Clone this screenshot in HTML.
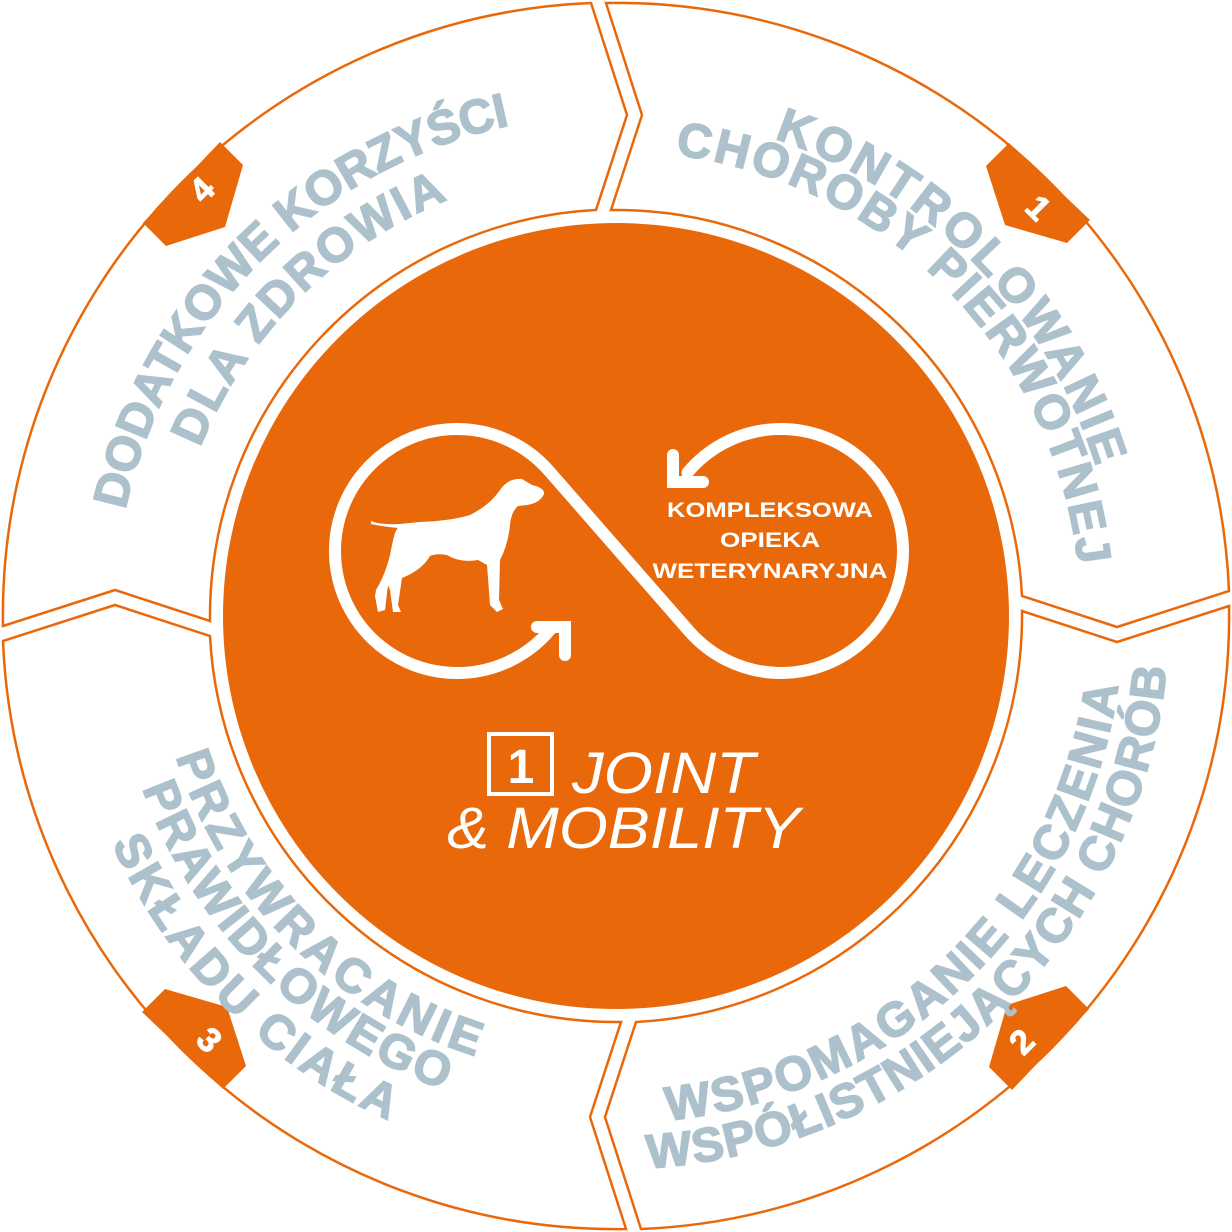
<!DOCTYPE html>
<html><head><meta charset="utf-8"><style>
html,body{margin:0;padding:0;background:#fff}
svg{display:block}
.seg{font-family:"Liberation Sans",sans-serif;font-weight:bold;font-size:48px;fill:#adc1cd;stroke:#adc1cd;stroke-width:1.6}
</style></head><body>
<svg width="1232" height="1232" viewBox="0 0 1232 1232" xmlns="http://www.w3.org/2000/svg">
<defs>
<path id="s1a" d="M407.4,158.3 A503,503 0 0,1 1070,832.5"/>
<path id="s1b" d="M423.2,192.8 A465,465 0 0,1 1035.7,816.2"/>
<path id="s2a" d="M393.7,1071.7 A507,507 0 0,0 1079.1,409.8"/>
<path id="s2b" d="M373.6,1113 A553,553 0 0,0 1121.2,391.1"/>
<path id="s3a" d="M197.3,420.8 A462,462 0 0,0 811.2,1034.7"/>
<path id="s3b" d="M159.2,403 A504,504 0 0,0 829,1072.8"/>
<path id="s3c" d="M114.8,382.3 A553,553 0 0,0 849.7,1117.2"/>
<path id="s4a" d="M161,828.1 A502,502 0 0,1 828.1,161"/>
<path id="s4b" d="M209.1,805.7 A449,449 0 0,1 805.7,209.1"/>
<g id="segshape"><path d="M606,3 A613,613 0 0,1 1229,591 L1117,627 L1022,596 A407,407 0 0,0 611,210 L642,115 Z" fill="#fff" stroke="#e9690a" stroke-width="2.5" stroke-linejoin="miter"/></g>
<polygon id="badge" points="1009,143 986,166 1005,225 1067,243 1090,220" fill="#e9690a"/>
</defs>
<use href="#segshape"/>
<use href="#segshape" transform="rotate(90 616 616)"/>
<use href="#segshape" transform="rotate(180 616 616)"/>
<use href="#segshape" transform="rotate(270 616 616)"/>
<circle cx="616" cy="616" r="393" fill="#e9690a"/>
<use href="#badge"/>
<use href="#badge" transform="rotate(90 616 616)"/>
<use href="#badge" transform="rotate(180 616 616)"/>
<use href="#badge" transform="rotate(270 616 616)"/>
<g font-family="Liberation Sans,sans-serif" font-weight="bold" font-size="34" fill="#fff" stroke="#fff" stroke-width="1" text-anchor="middle">
<text transform="translate(1030,216) rotate(45)">1</text>
<text transform="translate(1030,1050) rotate(-45)">2</text>
<text transform="translate(201,1048) rotate(45)">3</text>
<text transform="translate(210,198) rotate(-45)">4</text>
</g>
<g class="seg" text-anchor="middle">
<text><textPath href="#s1a" startOffset="50%" textLength="477" lengthAdjust="spacing">KONTROLOWANIE</textPath></text>
<text><textPath href="#s1b" startOffset="50%" textLength="620" lengthAdjust="spacing">CHOROBY PIERWOTNEJ</textPath></text>
<text><textPath href="#s2a" startOffset="50%" textLength="675" lengthAdjust="spacing">WSPOMAGANIE LECZENIA</textPath></text>
<text><textPath href="#s2b" startOffset="50%" textLength="785" lengthAdjust="spacing">WSPÓŁISTNIEJĄCYCH CHORÓB</textPath></text>
<text><textPath href="#s3a" startOffset="50%" textLength="440" lengthAdjust="spacing">PRZYWRACANIE</textPath></text>
<text><textPath href="#s3b" startOffset="50%" textLength="440" lengthAdjust="spacing">PRAWIDŁOWEGO</textPath></text>
<text><textPath href="#s3c" startOffset="50%" textLength="400" lengthAdjust="spacing">SKŁADU CIAŁA</textPath></text>
<text><textPath href="#s4a" startOffset="50%" textLength="575" lengthAdjust="spacing">DODATKOWE KORZYŚCI</textPath></text>
<text><textPath href="#s4b" startOffset="50%" textLength="360" lengthAdjust="spacing">DLA ZDROWIA</textPath></text>
</g>
<path d="M550.5,629.4 A122,122 0 1,1 548.9,470.8 L689.1,631.2 A122,122 0 1,0 687.5,472.6" fill="none" stroke="#fff" stroke-width="12" stroke-linecap="round"/>
<polyline points="537,627 565,627 565,655" fill="none" stroke="#fff" stroke-width="12" stroke-linecap="round" stroke-linejoin="miter"/>
<polyline points="673,455 673,482 703,482" fill="none" stroke="#fff" stroke-width="12" stroke-linecap="round" stroke-linejoin="miter"/>
<path fill="#fff" d="M371,521 Q380,525 400,524 L420,522 Q450,521 470,515 Q490,505 500,490 Q508,478 522,479 L532,485 Q545,488 544,494 Q540,503 527,505 L518,506 Q511,512 510,525 Q508,545 500,560 L499,600 L503,609 L497,612 L490,605 L487,565 L478,560 Q460,563 447,555 Q436,553 430,556 Q422,570 402,578 L398,605 L401,612 L393,612 L390,590 L388,585 L385,610 L378,612 L375,596 L376,590 Q388,570 392,545 Q395,530 398,528 Q385,527 371,524 Z"/>
<g font-family="Liberation Sans,sans-serif" font-weight="bold" font-size="21" fill="#fff" text-anchor="middle">
<text x="770" y="517" textLength="206" lengthAdjust="spacingAndGlyphs">KOMPLEKSOWA</text>
<text x="770" y="547" textLength="100" lengthAdjust="spacingAndGlyphs">OPIEKA</text>
<text x="770" y="578" textLength="235" lengthAdjust="spacingAndGlyphs">WETERYNARYJNA</text>
</g>
<rect x="489" y="734" width="63" height="60" fill="none" stroke="#fff" stroke-width="4"/>
<text x="521" y="783" font-family="Liberation Sans,sans-serif" font-weight="bold" font-size="48" fill="#fff" text-anchor="middle">1</text>
<g font-family="Liberation Sans,sans-serif" font-style="italic" font-size="58" fill="#fff">
<text x="572" y="793" textLength="183" lengthAdjust="spacingAndGlyphs">JOINT</text>
<text x="447" y="848" textLength="353" lengthAdjust="spacingAndGlyphs">&amp; MOBILITY</text>
</g>
</svg>
</body></html>
